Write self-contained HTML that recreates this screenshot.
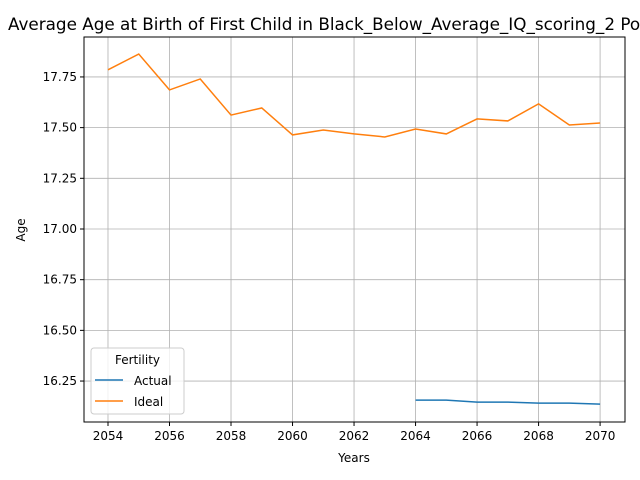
<!DOCTYPE html>
<html><head><meta charset="utf-8"><style>
body{margin:0;background:#fff;}
svg{display:block;font-family:"DejaVu Sans","Liberation Sans",sans-serif;}
</style></head><body>
<svg id="chart" width="640" height="480">
<text x="8" y="30" font-size="16.8" fill="#000">Average Age at Birth of First Child in Black_Below_Average_IQ_scoring_2 Population</text>
<g id="grid"></g>
<g id="series"></g>
<rect x="84" y="37" width="541" height="385" fill="none" stroke="#000" stroke-width="1"/>
<g id="ticks"></g>
<text x="354" y="462" font-size="12" text-anchor="middle">Years</text>
<text x="25" y="230" font-size="12" text-anchor="middle" transform="rotate(-90 25 230)">Age</text>
<g>
<rect x="91" y="348" width="93" height="66" rx="3" fill="#fff" fill-opacity="0.8" stroke="#ccc"/>
<text x="137.5" y="364" font-size="12" text-anchor="middle">Fertility</text>
<line x1="95" y1="380" x2="123" y2="380" stroke="#1f77b4" stroke-width="1.5"/>
<text x="134" y="385" font-size="12">Actual</text>
<line x1="95" y1="401" x2="123" y2="401" stroke="#ff7f0e" stroke-width="1.5"/>
<text x="134" y="406" font-size="12">Ideal</text>
</g>
</svg>
<script>
const idealYears=[2054,2055,2056,2057,2058,2059,2060,2061,2062,2063,2064,2065,2066,2067,2068,2069,2070];
const idealValues=[17.785,17.863,17.686,17.740,17.562,17.597,17.464,17.488,17.469,17.454,17.493,17.469,17.543,17.533,17.617,17.513,17.523];
const actualYears=[2064,2065,2066,2067,2068,2069,2070];
const actualValues=[16.156,16.156,16.146,16.146,16.141,16.141,16.136];
const xTicks=[2054,2056,2058,2060,2062,2064,2066,2068,2070];
const yTicks=[16.25,16.5,16.75,17.0,17.25,17.5,17.75];
const NS="http://www.w3.org/2000/svg";
const L=84,R=625,T=37,B=422,xMin=2053.22,xMax=2070.81,yMin=16.048,yMax=17.947;
function xs(v){return L+(v-xMin)/(xMax-xMin)*(R-L);}
function ys(v){return B-(v-yMin)/(yMax-yMin)*(B-T);}
const grid=document.getElementById('grid'),ticks=document.getElementById('ticks'),series=document.getElementById('series');
function mk(tag,attrs,parent){const e=document.createElementNS(NS,tag);for(const k in attrs)e.setAttribute(k,attrs[k]);parent.appendChild(e);return e;}
xTicks.forEach(t=>{const x=xs(t);
const g=mk('line',{x1:x,x2:x,y1:T,y2:B,stroke:'#b0b0b0','stroke-width':0.8},grid);


const tk=mk('line',{x1:x,x2:x,y1:B,y2:B+4,stroke:'#000'},ticks);


const tx=mk('text',{x:x,y:B+18,'font-size':12,'text-anchor':'middle'},ticks);tx.textContent=t;

});
yTicks.forEach(t=>{const y=ys(t);
const g=mk('line',{x1:L,x2:R,y1:y,y2:y,stroke:'#b0b0b0','stroke-width':0.8},grid);


const tk=mk('line',{x1:L-4,x2:L,y1:y,y2:y,stroke:'#000'},ticks);


const tx=mk('text',{x:L-7,y:y+4,'font-size':12,'text-anchor':'end'},ticks);tx.textContent=t.toFixed(2);

});
function line(xsA,vs,color,name){const p=xsA.map((x,i)=>xs(x).toFixed(2)+','+ys(vs[i]).toFixed(2)).join(' ');
const pl=mk('polyline',{points:p,fill:'none',stroke:color,'stroke-width':1.5},series);

}
line(actualYears,actualValues,'#1f77b4','actual-line');
line(idealYears,idealValues,'#ff7f0e','ideal-line');
</script>
</body></html>
